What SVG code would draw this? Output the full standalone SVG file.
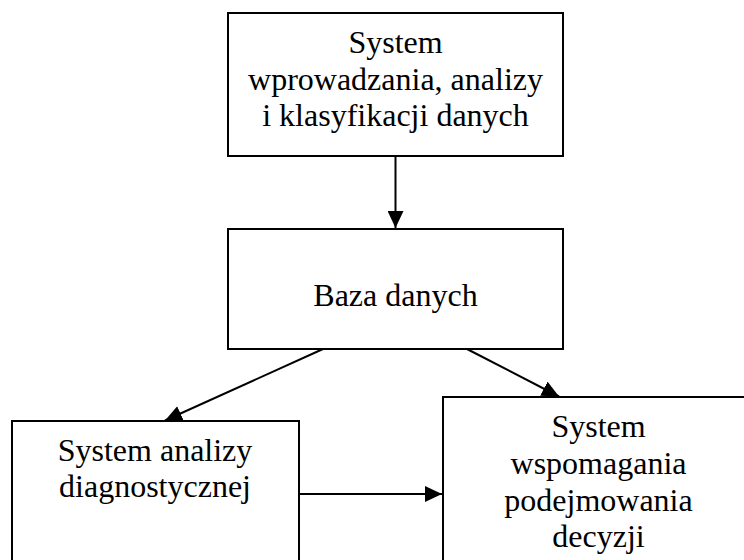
<svg xmlns="http://www.w3.org/2000/svg" width="744" height="560" viewBox="0 0 744 560">
  <style>
    .box { fill: #ffffff; stroke: #000000; stroke-width: 2; }
    .lbl { font-family: "Liberation Serif", "Times New Roman", serif; font-size: 32px; fill: #000000; text-anchor: middle; }
    .edge { fill: none; stroke: #000000; stroke-width: 2; marker-end: url(#arrow); }
  </style>
  <defs>
    <marker id="arrow" markerUnits="userSpaceOnUse" markerWidth="18" markerHeight="16" refX="17" refY="8" orient="auto">
      <path d="M0,0 L17,8 L0,16 Z" fill="#000000"/>
    </marker>
  </defs>

  <rect width="744" height="560" fill="#ffffff"/>

  <g id="connectors">
    <line class="edge" x1="395.5" y1="157" x2="395.5" y2="228"/>
    <line class="edge" x1="323" y1="349" x2="165" y2="420.5"/>
    <line class="edge" x1="467" y1="349" x2="559" y2="396.5"/>
    <line class="edge" x1="300" y1="494" x2="442" y2="494"/>
  </g>

  <g id="input-system">
    <rect class="box" x="228" y="13" width="335" height="143"/>
    <text class="lbl" x="395.5" y="53">System</text>
    <text class="lbl" x="395.5" y="89.5">wprowadzania, analizy</text>
    <text class="lbl" x="395.5" y="126">i klasyfikacji danych</text>
  </g>

  <g id="database">
    <rect class="box" x="228" y="229" width="335" height="120"/>
    <text class="lbl" x="395.5" y="306">Baza danych</text>
  </g>

  <g id="diagnostic-system">
    <rect class="box" x="12" y="421" width="287" height="160"/>
    <text class="lbl" x="155" y="461">System analizy</text>
    <text class="lbl" x="155" y="497">diagnostycznej</text>
  </g>

  <g id="decision-system">
    <rect class="box" x="443" y="397" width="311" height="190"/>
    <text class="lbl" x="598.5" y="437">System</text>
    <text class="lbl" x="598.5" y="474">wspomagania</text>
    <text class="lbl" x="598.5" y="510.5">podejmowania</text>
    <text class="lbl" x="598.5" y="547">decyzji</text>
  </g>
</svg>
